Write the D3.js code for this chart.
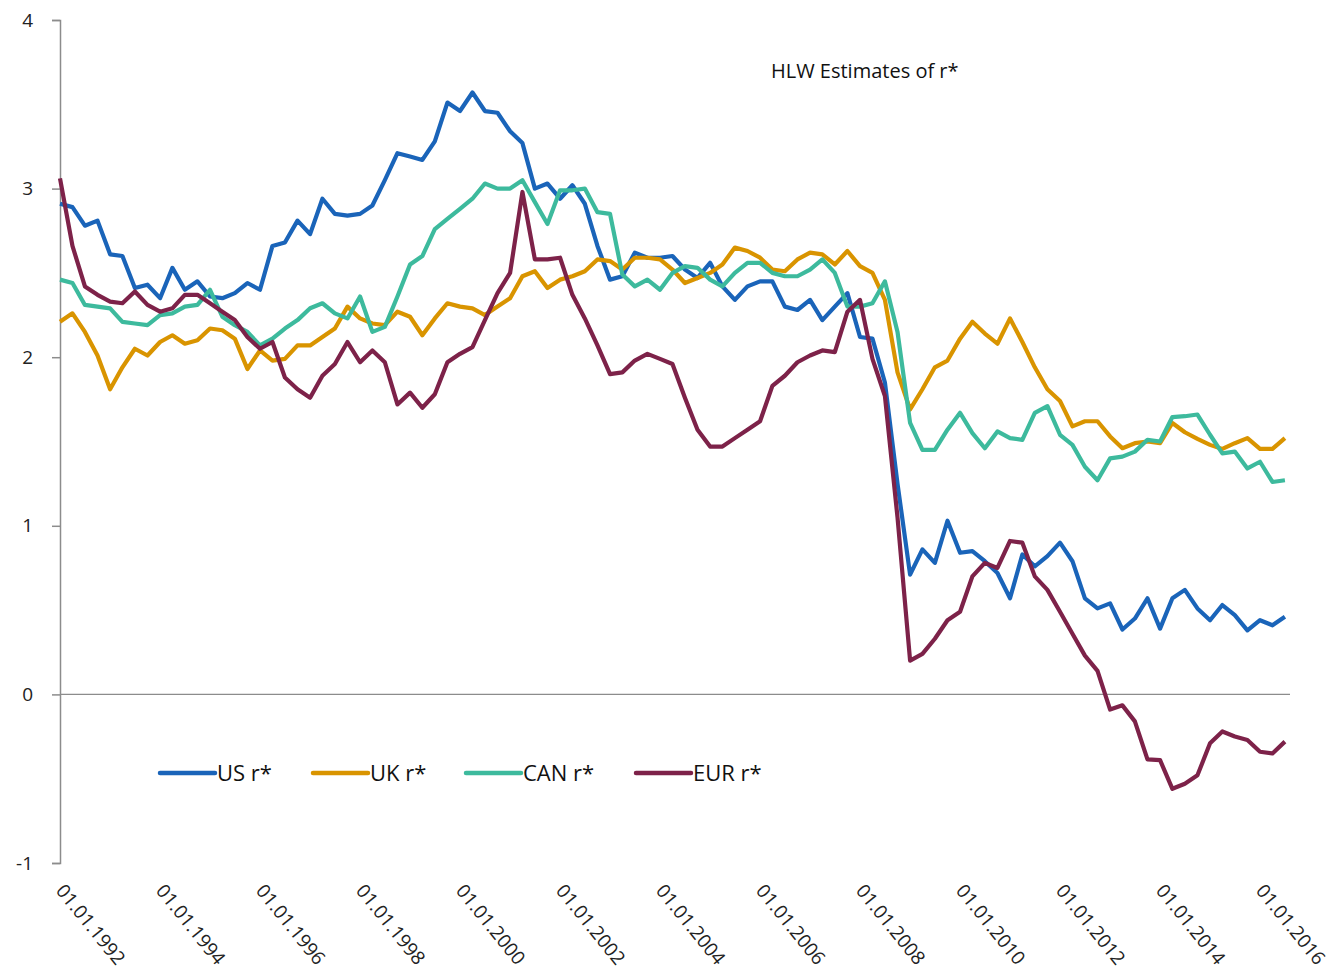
<!DOCTYPE html>
<html>
<head>
<meta charset="utf-8">
<script src="https://cdn.jsdelivr.net/npm/d3@7"></script>
<style>
  body { margin: 0; background: #fff; }
  svg { font-family: 'Open Sans', 'Noto Sans', sans-serif; }
</style>
</head>
<body>
<svg id="chart"></svg>
<script>
const width = 1329;
const height = 978;

// quarterly estimates, 1992Q1 .. 2016Q3
const startDate = new Date(1992, 0, 1);

const usR = [2.91, 2.89, 2.78, 2.81, 2.61, 2.60, 2.41, 2.43, 2.35, 2.53, 2.40, 2.45, 2.36, 2.35, 2.38, 2.44, 2.40, 2.66, 2.68, 2.81, 2.73, 2.94,
  2.85, 2.84, 2.85, 2.90, 3.05, 3.21, 3.19, 3.17, 3.28, 3.51, 3.46, 3.57, 3.46, 3.45, 3.34, 3.27, 3.00, 3.03, 2.94, 3.02, 2.91, 2.66,
  2.46, 2.48, 2.62, 2.59, 2.59, 2.60, 2.52, 2.47, 2.56, 2.42, 2.34, 2.42, 2.45, 2.45, 2.30, 2.28, 2.34, 2.22, 2.30, 2.38, 2.12, 2.11,
  1.85, 1.25, 0.71, 0.86, 0.78, 1.03, 0.84, 0.85, 0.79, 0.72, 0.57, 0.83, 0.76, 0.82, 0.90, 0.79, 0.57, 0.51, 0.54, 0.385,
  0.45, 0.57, 0.39, 0.57, 0.62, 0.51, 0.44, 0.53, 0.47, 0.38, 0.44, 0.41, 0.46];

const ukR = [2.21, 2.26, 2.15, 2.01, 1.81, 1.94, 2.05, 2.01, 2.09, 2.13, 2.08, 2.10, 2.17, 2.16, 2.11, 1.93, 2.04, 1.98, 1.99, 2.07, 2.07, 2.12,
  2.17, 2.30, 2.23, 2.20, 2.19, 2.27, 2.24, 2.13, 2.23, 2.32, 2.30, 2.29, 2.25, 2.30, 2.35, 2.48, 2.51, 2.41, 2.46, 2.48, 2.51, 2.58,
  2.57, 2.52, 2.59, 2.59, 2.58, 2.52, 2.44, 2.47, 2.50, 2.55, 2.65, 2.63, 2.59, 2.52, 2.51, 2.58, 2.62, 2.61, 2.55, 2.63, 2.54, 2.50,
  2.34, 1.91, 1.69, 1.81, 1.94, 1.98, 2.11, 2.21, 2.14, 2.08, 2.23, 2.09, 1.94, 1.81, 1.74, 1.59, 1.62, 1.62, 1.53, 1.46,
  1.49, 1.50, 1.49, 1.61, 1.555, 1.515, 1.48, 1.456, 1.49, 1.52, 1.456, 1.456, 1.52];

const canR = [2.46, 2.44, 2.31, 2.30, 2.29, 2.21, 2.20, 2.19, 2.25, 2.26, 2.30, 2.31, 2.40, 2.24, 2.19, 2.15, 2.07, 2.11, 2.17, 2.22, 2.29, 2.32,
  2.26, 2.23, 2.36, 2.15, 2.18, 2.36, 2.55, 2.60, 2.76, 2.82, 2.88, 2.94, 3.03, 3.00, 3.00, 3.05, 2.92, 2.79, 2.99, 2.99, 3.00, 2.86,
  2.85, 2.49, 2.42, 2.46, 2.40, 2.50, 2.54, 2.53, 2.46, 2.42, 2.50, 2.56, 2.56, 2.50, 2.48, 2.48, 2.52, 2.58, 2.50, 2.30, 2.30, 2.32,
  2.45, 2.15, 1.61, 1.45, 1.45, 1.57, 1.67, 1.55, 1.46, 1.56, 1.52, 1.51, 1.67, 1.71, 1.54, 1.48, 1.35, 1.27, 1.40, 1.41,
  1.44, 1.51, 1.50, 1.645, 1.65, 1.66, 1.54, 1.43, 1.44, 1.34, 1.38, 1.26, 1.27];

const eurR = [3.06, 2.66, 2.42, 2.37, 2.33, 2.32, 2.39, 2.31, 2.27, 2.29, 2.37, 2.37, 2.32, 2.27, 2.22, 2.12, 2.05, 2.09, 1.88, 1.81, 1.76, 1.89,
  1.96, 2.09, 1.97, 2.04, 1.97, 1.72, 1.79, 1.70, 1.78, 1.97, 2.02, 2.06, 2.22, 2.38, 2.50, 2.98, 2.58, 2.58, 2.59, 2.37, 2.23, 2.07,
  1.90, 1.91, 1.98, 2.02, 1.99, 1.96, 1.76, 1.57, 1.47, 1.47, 1.52, 1.57, 1.62, 1.83, 1.89, 1.97, 2.01, 2.04, 2.03, 2.27, 2.34, 1.99,
  1.77, 1.05, 0.20, 0.24, 0.33, 0.44, 0.49, 0.70, 0.78, 0.75, 0.91, 0.90, 0.70, 0.62, 0.49, 0.36, 0.23, 0.14, -0.09, -0.065,
  -0.16, -0.385, -0.39, -0.56, -0.53, -0.48, -0.29, -0.22, -0.25, -0.27, -0.34, -0.35, -0.28];

const seriesNames = ['US r*', 'UK r*', 'CAN r*', 'EUR r*'];
const seriesColors = ['#1a64b9', '#d99400', '#3dba9d', '#7d2249'];
const yTicks = [-1, 0, 1, 2, 3, 4];
const xTickYears = [1992, 1994, 1996, 1998, 2000, 2002, 2004, 2006, 2008, 2010, 2012, 2014, 2016];
const title = 'HLW Estimates of r*';

const dates = usR.map((d, i) => d3.timeMonth.offset(startDate, 3 * i));
const allSeries = [usR, ukR, canR, eurR];

const svg = d3.select('#chart')
  .attr('width', width)
  .attr('height', height);

const x = d3.scaleTime()
  .domain([new Date(1992, 0, 1), new Date(2016, 0, 1)])
  .range([60, 1260]);
const y = d3.scaleLinear().domain([-1, 4]).range([863, 20]);

// zero line
svg.append('line')
  .attr('x1', 60).attr('x2', 1290)
  .attr('y1', y(0)).attr('y2', y(0))
  .attr('stroke', '#8c8c8c')
  .attr('stroke-width', 1.2);

// y axis
const yAxis = svg.append('g')
  .attr('transform', 'translate(60,0)')
  .call(d3.axisLeft(y).tickValues(yTicks).tickSize(8).tickPadding(19).tickFormat(d => String(d)));
yAxis.select('.domain').attr('stroke', '#8c8c8c').attr('stroke-width', 1.5);
yAxis.selectAll('.tick line').attr('stroke', '#8c8c8c').attr('stroke-width', 1.5);
yAxis.selectAll('.tick text')
  .attr('fill', '#222')
  .style('font-size', '19px')
  .style('font-family', "'Open Sans', sans-serif");

// x labels, rotated, no axis line
const fmt = d3.timeFormat('%d.%m.%Y');
svg.append('g').selectAll('text')
  .data(xTickYears)
  .enter().append('text')
  .attr('transform', d => `translate(${x(new Date(d, 0, 1)) - 5}, 891) rotate(51)`)
  .attr('fill', '#222')
  .style('font-size', '19px')
  .text(d => fmt(new Date(d, 0, 1)));

// series lines
const line = d3.line()
  .x((d, i) => x(dates[i]))
  .y(d => y(d));

svg.append('g').selectAll('path')
  .data(allSeries)
  .enter().append('path')
  .attr('d', line)
  .attr('fill', 'none')
  .attr('stroke', (d, i) => seriesColors[i])
  .attr('stroke-width', 4.2)
  .attr('stroke-linejoin', 'round');

// title
svg.append('text')
  .attr('x', 771)
  .attr('y', 78)
  .attr('fill', '#111')
  .style('font-size', '20px')
  .text(title);

// legend
const legendX = [160, 313, 466, 636];
const legend = svg.append('g').selectAll('g')
  .data(seriesNames)
  .enter().append('g')
  .attr('transform', (d, i) => `translate(${legendX[i]}, 773)`);

legend.append('line')
  .attr('x1', 0).attr('x2', 55)
  .attr('stroke', (d, i) => seriesColors[i])
  .attr('stroke-width', 4.5)
  .attr('stroke-linecap', 'round');

legend.append('text')
  .attr('x', 57)
  .attr('y', 8)
  .attr('fill', '#111')
  .style('font-size', '22px')
  .text(d => d);
</script>
</body>
</html>
